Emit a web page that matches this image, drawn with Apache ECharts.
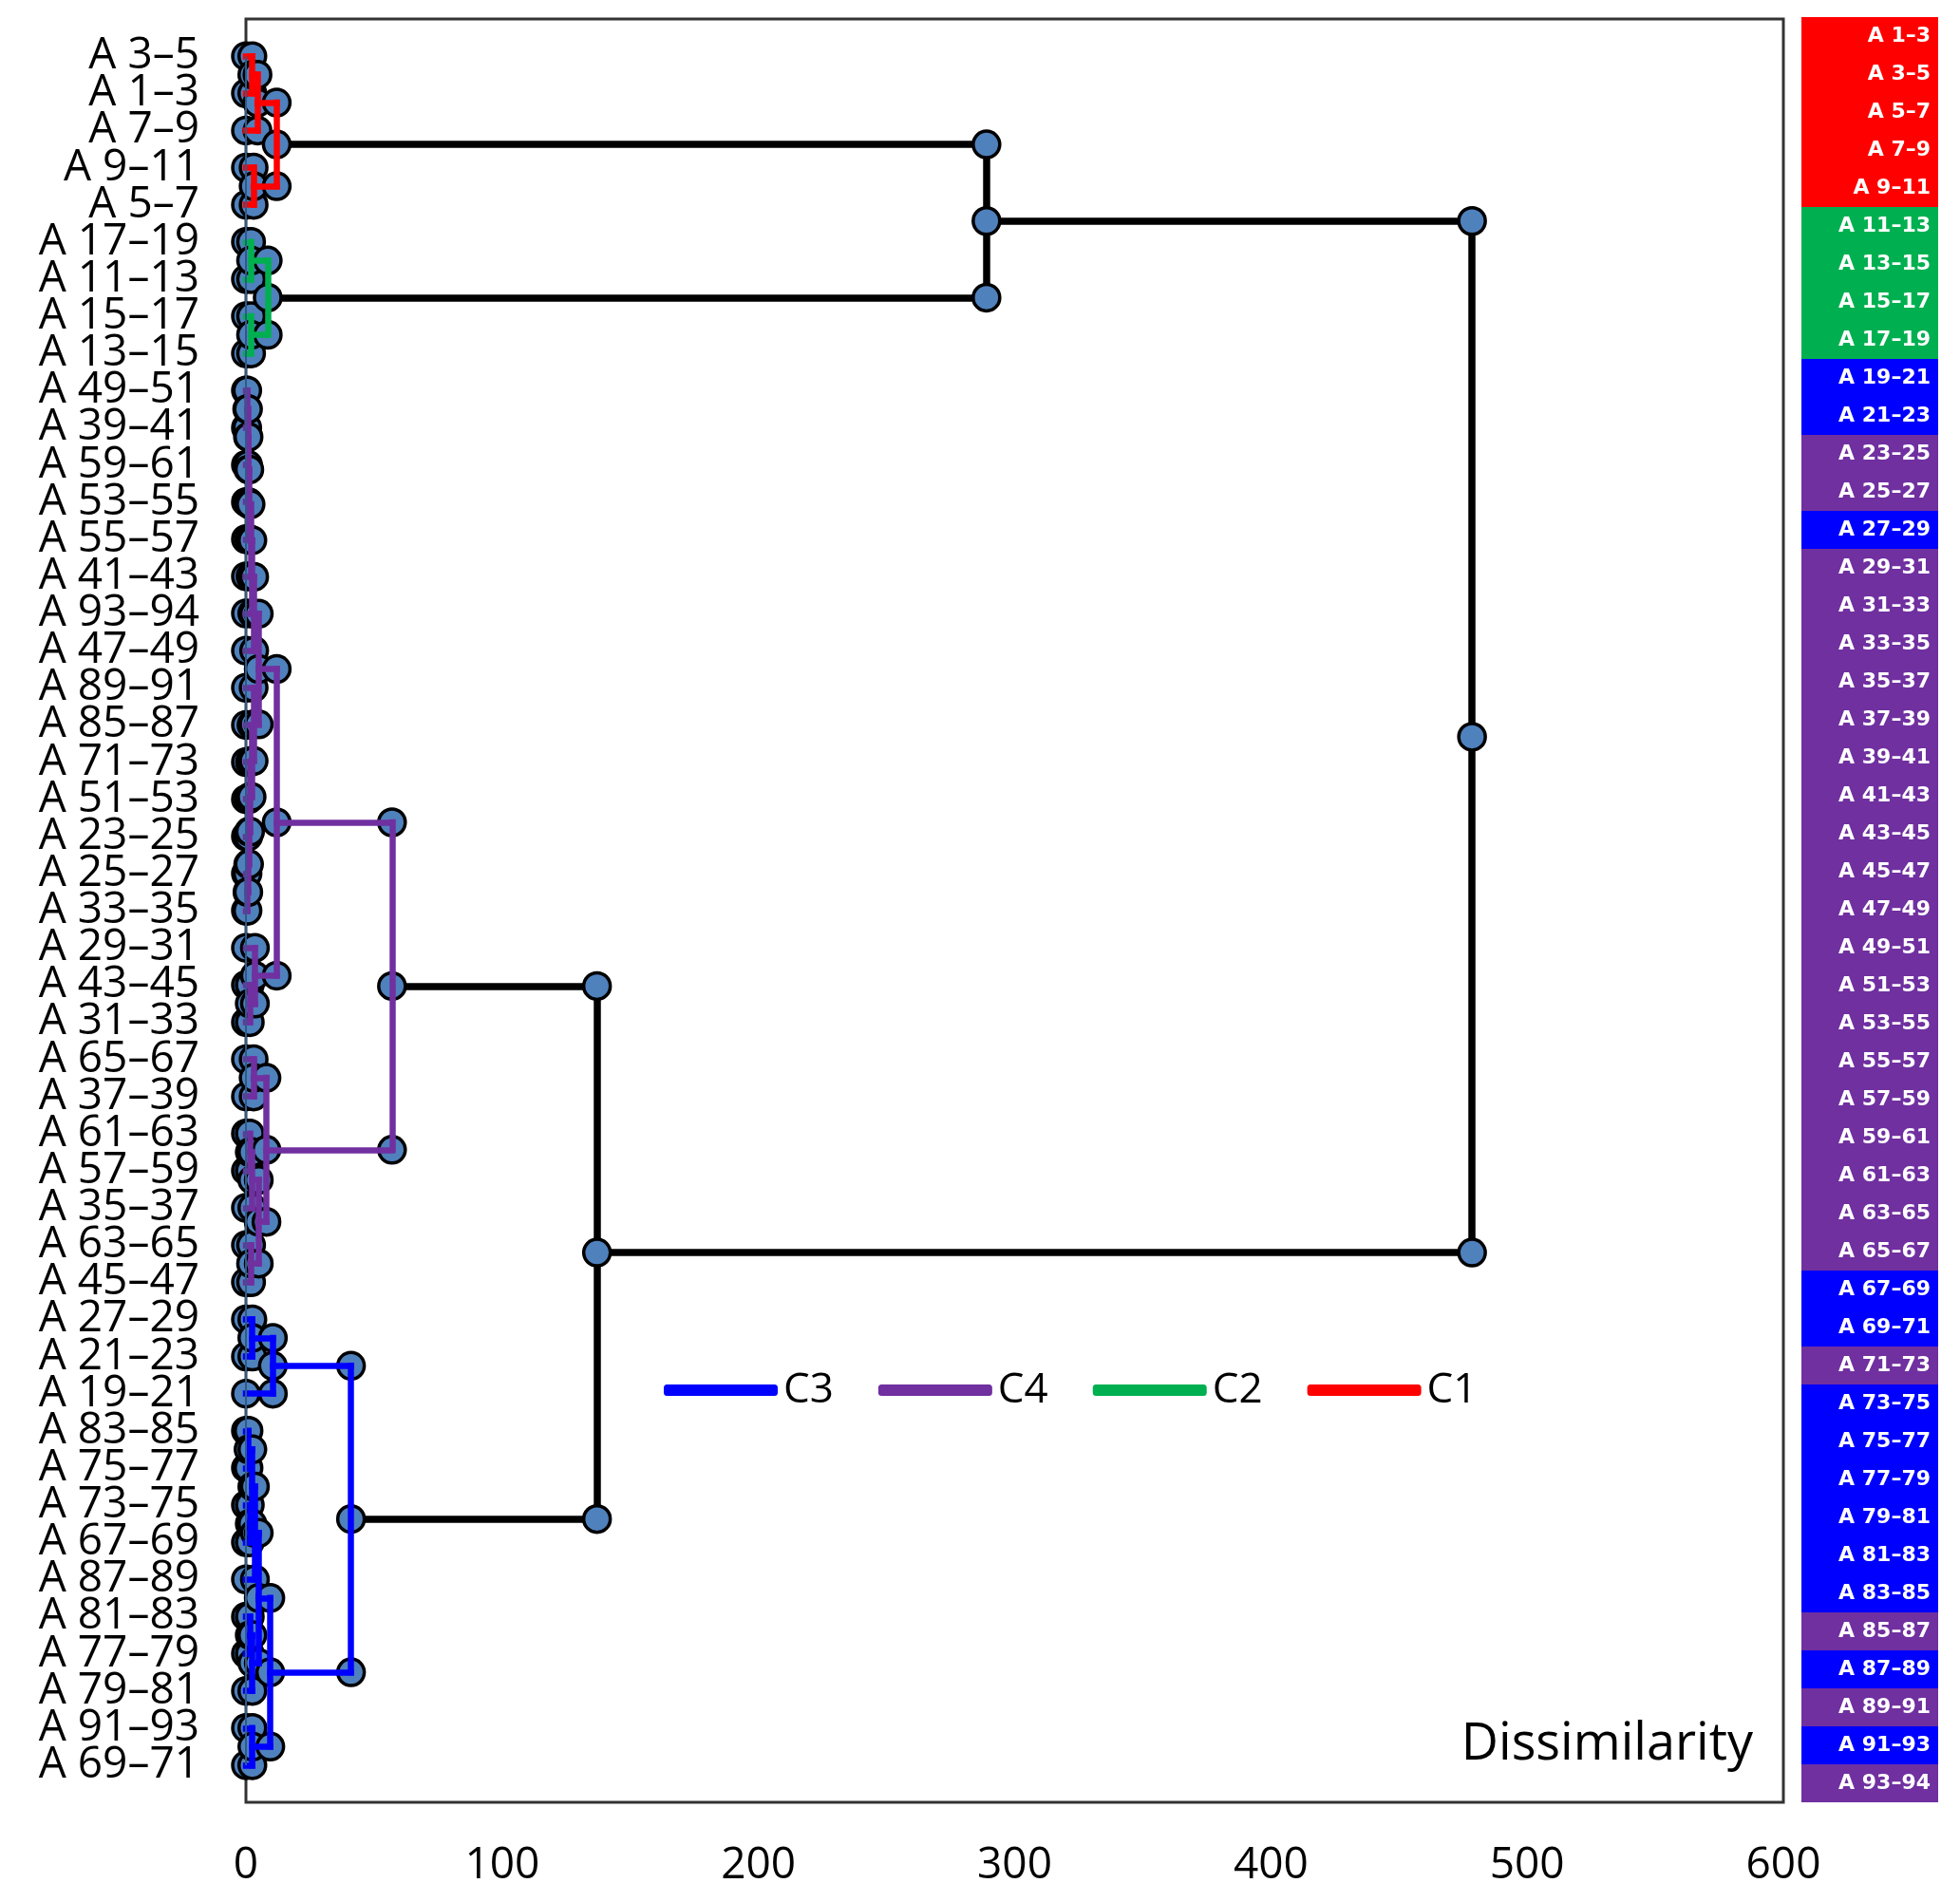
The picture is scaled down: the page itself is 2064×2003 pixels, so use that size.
<!DOCTYPE html>
<html>
<head>
<meta charset="utf-8">
<script src="https://cdn.jsdelivr.net/npm/echarts@6/dist/echarts.min.js"></script>
<style>
  html, body { margin: 0; padding: 0; background: #fff; }
  #chart { width: 2064px; height: 2003px; }
</style>
</head>
<body>
<div id="chart"></div>
<script>
// ---- Data ----
// Leaf order of the dendrogram (top to bottom)
const leafLabels = ['A 3–5','A 1–3','A 7–9','A 9–11','A 5–7','A 17–19','A 11–13','A 15–17','A 13–15',
  'A 49–51','A 39–41','A 59–61','A 53–55','A 55–57','A 41–43','A 93–94','A 47–49','A 89–91','A 85–87',
  'A 71–73','A 51–53','A 23–25','A 25–27','A 33–35','A 29–31','A 43–45','A 31–33','A 65–67','A 37–39',
  'A 61–63','A 57–59','A 35–37','A 63–65','A 45–47',
  'A 27–29','A 21–23','A 19–21','A 83–85','A 75–77','A 73–75','A 67–69','A 87–89','A 81–83','A 77–79',
  'A 79–81','A 91–93','A 69–71'];
// Cluster of each leaf (same order)
const leafCluster = ['C1','C1','C1','C1','C1','C2','C2','C2','C2',
  'C4','C4','C4','C4','C4','C4','C4','C4','C4','C4','C4','C4','C4','C4','C4','C4','C4','C4','C4','C4',
  'C4','C4','C4','C4','C4',
  'C3','C3','C3','C3','C3','C3','C3','C3','C3','C3','C3','C3','C3'];
// Linkage: [childA, childB, dissimilarity]; leaves are 0..46, merge k gets id 47+k
const merges = [
  [0,1,2.5],[47,2,4.5],[3,4,3],[48,49,12],
  [5,6,2],[7,8,2],[51,52,8.5],
  [50,53,289],
  [9,10,0.5],[55,11,0.8],[56,12,1.0],[57,13,1.3],[58,14,1.8],[59,15,2.5],[60,16,3.2],
  [22,23,0.6],[21,62,0.9],[20,63,1.2],[19,64,1.6],[18,65,2.2],[17,66,3.0],
  [61,67,5],
  [25,26,1.5],[24,69,3.5],
  [68,70,12],
  [27,28,3],
  [29,30,1.5],[73,31,2.5],[32,33,2],[74,75,5],
  [72,76,8],
  [71,77,57],
  [34,35,2.5],[79,36,10.5],
  [37,38,1],[39,40,1.5],[81,82,2.5],[83,41,3.5],
  [42,43,1.5],[85,44,2.5],
  [84,86,5],
  [45,46,2.5],
  [87,88,9.5],
  [80,89,41],
  [78,90,137],
  [54,91,478.5]
];
// Right-hand strip (sorted labels)
const stripLabels = ['A 1–3','A 3–5','A 5–7','A 7–9','A 9–11','A 11–13','A 13–15','A 15–17','A 17–19',
  'A 19–21','A 21–23','A 23–25','A 25–27','A 27–29','A 29–31','A 31–33','A 33–35','A 35–37','A 37–39',
  'A 39–41','A 41–43','A 43–45','A 45–47','A 47–49','A 49–51','A 51–53','A 53–55','A 55–57','A 57–59',
  'A 59–61','A 61–63','A 63–65','A 65–67','A 67–69','A 69–71','A 71–73','A 73–75','A 75–77','A 77–79',
  'A 79–81','A 81–83','A 83–85','A 85–87','A 87–89','A 89–91','A 91–93','A 93–94'];
const xTicks = [0, 100, 200, 300, 400, 500, 600];
const legendOrder = ['C3','C4','C2','C1'];
const clusterColors = { C1: '#FF0000', C2: '#00B050', C3: '#0000FF', C4: '#7030A0', K: '#000000' };

// ---- Build dendrogram geometry in data space ----
const N = leafLabels.length;
const nodeY = leafLabels.map((_, i) => i);
const nodeH = leafLabels.map(() => 0);
const nodeG = leafCluster.slice();
const segs = { K: [], C1: [], C2: [], C3: [], C4: [] };
const markers = leafLabels.map((_, i) => [0, i]);
merges.forEach(([a, b, h], k) => {
  const id = N + k;
  nodeY[id] = (nodeY[a] + nodeY[b]) / 2;
  nodeH[id] = h;
  const g = nodeG[a] === nodeG[b] ? nodeG[a] : 'K';
  nodeG[id] = g;
  segs[g].push({ coords: [[nodeH[a], nodeY[a]], [h, nodeY[a]]] });
  segs[g].push({ coords: [[nodeH[b], nodeY[b]], [h, nodeY[b]]] });
  segs[g].push({ coords: [[h, nodeY[a]], [h, nodeY[b]]] });
  markers.push([h, nodeY[a]], [h, nodeY[b]], [h, nodeY[id]]);
});

function lineSeries(name, z, width) {
  return {
    name: name, type: 'lines', coordinateSystem: 'cartesian2d',
    xAxisIndex: 0, yAxisIndex: 0, z: z, silent: true,
    lineStyle: { color: clusterColors[name] || '#000', width: width, opacity: 1, curveness: 0, cap: 'square' },
    itemStyle: { color: clusterColors[name] || '#000' },
    data: segs[name]
  };
}

const stripData = stripLabels.map(l => {
  const c = leafCluster[leafLabels.indexOf(l)];
  return { value: 1, itemStyle: { color: clusterColors[c] } };
});

const FONT = 'Open Sans';
const chart = echarts.init(document.getElementById('chart'), null, { renderer: 'canvas' });
chart.setOption({
  backgroundColor: '#ffffff',
  animation: false,
  grid: [
    { left: 259, top: 20, width: 1619, height: 1878, show: true, borderColor: '#333', borderWidth: 3, backgroundColor: 'transparent' },
    { left: 1897, top: 18, width: 144, height: 1880 }
  ],
  xAxis: [
    { type: 'value', gridIndex: 0, min: 0, max: 600, interval: 100,
      axisLine: { show: false }, axisTick: { show: false }, splitLine: { show: false },
      axisLabel: { show: true, margin: 44, fontSize: 46, fontFamily: FONT, color: '#000',
        formatter: v => xTicks.indexOf(v) >= 0 ? String(v) : '' } },
    { type: 'value', gridIndex: 1, min: 0, max: 1, show: false }
  ],
  yAxis: [
    { type: 'value', gridIndex: 0, min: -1, max: 47, interval: 1, inverse: true,
      axisLine: { show: false }, axisTick: { show: false }, splitLine: { show: false },
      axisLabel: { show: true, margin: 49, fontSize: 46, fontFamily: FONT, color: '#000',
        formatter: v => (v >= 0 && v < N) ? leafLabels[v] : '' } },
    { type: 'category', gridIndex: 1, data: stripLabels, inverse: true, show: false }
  ],
  legend: {
    data: legendOrder.map(n => ({ name: n, icon: 'roundRect', itemStyle: { color: clusterColors[n] } })),
    orient: 'horizontal', left: 694, top: 1437,
    itemWidth: 118, itemHeight: 10, itemGap: 47,
    textStyle: { fontSize: 44, fontFamily: FONT, color: '#000', padding: [0, 0, 0, 2] },
    selectedMode: false
  },
  graphic: [
    { type: 'text', x: 1846, y: 1838, z: 10,
      style: { text: 'Dissimilarity', fontSize: 54, fontFamily: FONT, fill: '#000', textAlign: 'right', textVerticalAlign: 'middle' } }
  ],
  series: [
    lineSeries('K', 2, 7.5),
    {
      name: 'nodes', type: 'scatter', xAxisIndex: 0, yAxisIndex: 0, z: 3, silent: true,
      symbol: 'circle', symbolSize: 28,
      itemStyle: { color: '#4F81BD', borderColor: '#000', borderWidth: 3.5, opacity: 1 },
      data: markers
    },
    lineSeries('C1', 4, 6.5),
    lineSeries('C2', 4, 6.5),
    lineSeries('C3', 4, 6.5),
    lineSeries('C4', 4, 6.5),
    {
      name: 'leafline', type: 'lines', coordinateSystem: 'cartesian2d', xAxisIndex: 0, yAxisIndex: 0,
      z: 5, silent: true,
      lineStyle: { color: '#2E5A88', width: 2, opacity: 1 },
      data: [{ coords: [[0, 0], [0, N - 1]] }]
    },
    {
      name: 'strip', type: 'bar', xAxisIndex: 1, yAxisIndex: 1, barCategoryGap: '0%', silent: true,
      data: stripData,
      label: { show: true, position: 'insideRight', distance: 8, formatter: '{b}', color: '#fff',
        fontWeight: 'bold', fontSize: 22, fontFamily: 'DejaVu Sans' }
    }
  ]
});
</script>
</body>
</html>
